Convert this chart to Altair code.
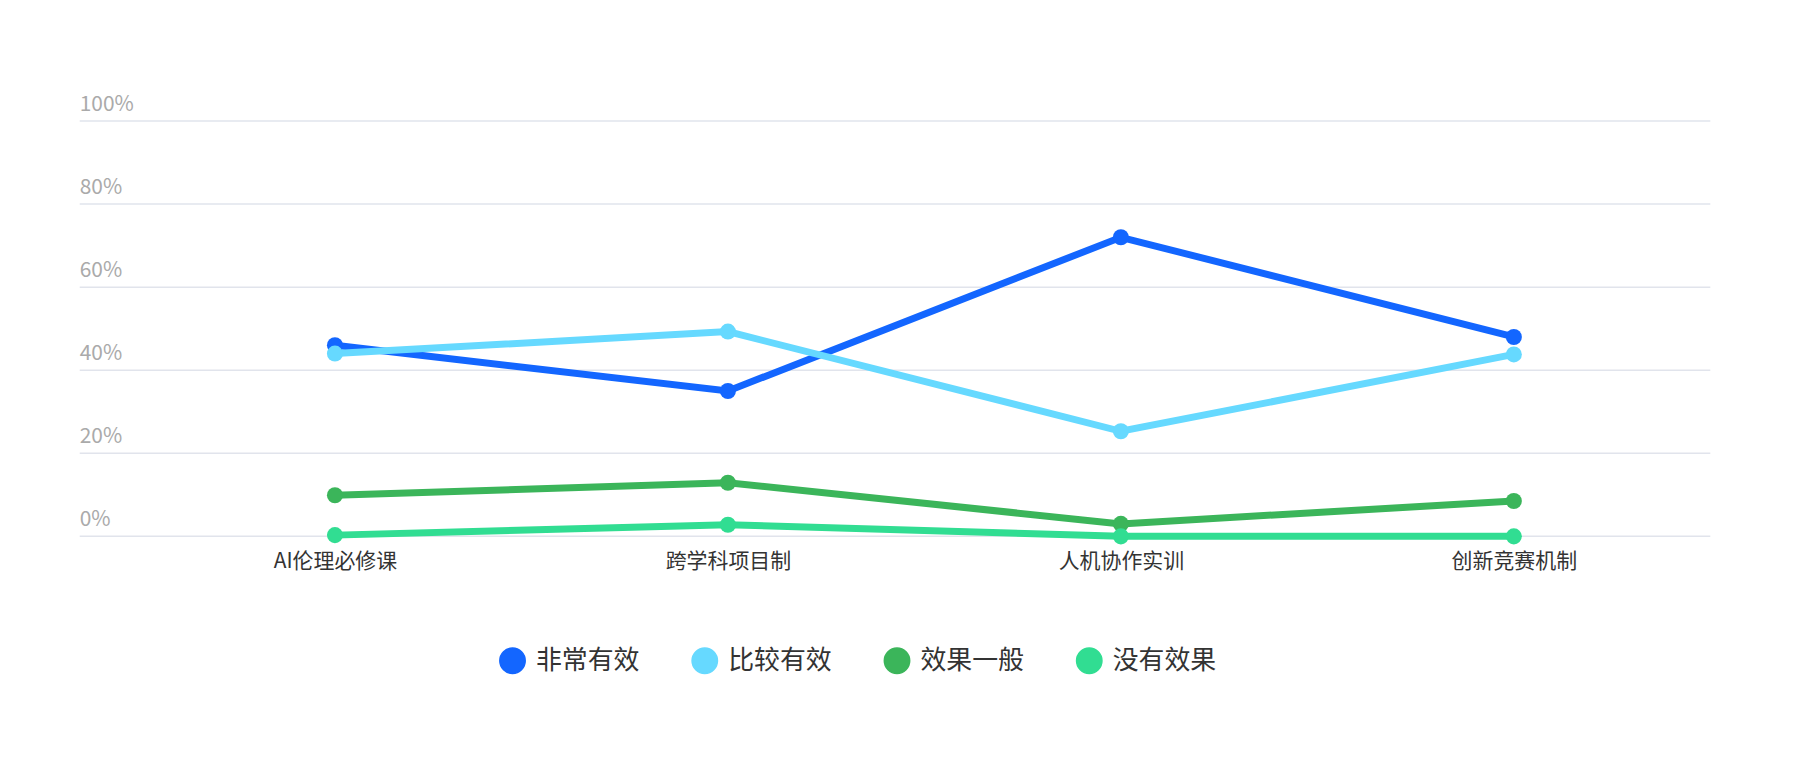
import pandas as pd
import altair as alt

categories = ["AI伦理必修课", "跨学科项目制", "人机协作实训", "创新竞赛机制"]
series = ["非常有效", "比较有效", "效果一般", "没有效果"]
very = [46, 35, 72, 48]
fairly = [44, 49.3, 25.3, 43.8]
average = [9.9, 12.9, 3, 8.5]
none_ = [0.3, 2.8, 0, 0]
ticks = [0, 20, 40, 60, 80, 100]
colors = ["#1366FF", "#66D9FF", "#3BB55A", "#31DD92"]

rows = []
for name, vals in zip(series, [very, fairly, average, none_]):
    for c, v in zip(categories, vals):
        rows.append({"cat": c, "series": name, "value": v})
df = pd.DataFrame(rows)
tick_df = pd.DataFrame({"t": ticks, "label": [f"{t}%" for t in ticks]})

W, H = 1578, 417
yscale = alt.Scale(domain=[0, 100])

grid = alt.Chart(tick_df).mark_rule(color="#E1E4EC", strokeWidth=1.5).encode(
    y=alt.Y("t:Q", scale=yscale, axis=None),
    x=alt.value(-59), x2=alt.value(W))
ylab = alt.Chart(tick_df).mark_text(align="left", baseline="bottom", dy=-6, fontSize=21,
                                     color="#AAAAAA", font="Noto Sans CJK SC").encode(
    y=alt.Y("t:Q", scale=yscale, axis=None), x=alt.value(-59), text="label:N")

enc = dict(
    x=alt.X("cat:N", sort=categories, title=None, scale=alt.Scale(paddingInner=0, paddingOuter=0.5),
            axis=alt.Axis(labelAngle=0, labelFontSize=21, labelColor="#333333", domain=False,
                          ticks=False, labelPadding=14, labelFont="Noto Sans CJK SC")),
    y=alt.Y("value:Q", scale=yscale, axis=None),
    color=alt.Color("series:N", sort=series, scale=alt.Scale(domain=series, range=colors),
                    legend=alt.Legend(title=None, orient="none", legendX=362, legendY=528,
                                      direction="horizontal", symbolType="circle", symbolSize=650,
                                      symbolOpacity=1, labelFontSize=26, labelColor="#333333",
                                      labelFont="Noto Sans CJK SC", columnPadding=48, labelOffset=10)),
)
lines = alt.Chart(df).mark_line(strokeWidth=7).encode(**enc)
points = alt.Chart(df).mark_circle(size=260, opacity=1).encode(**enc)

chart = alt.layer(grid, ylab, lines, points).properties(
    width=W, height=H, autosize=alt.AutoSizeParams(type="none"),
    padding={"left": 131, "top": 112, "right": 80, "bottom": 200}
).configure_view(stroke=None)

chart.save("out.html", embed_options={"renderer": "svg", "actions": False})
